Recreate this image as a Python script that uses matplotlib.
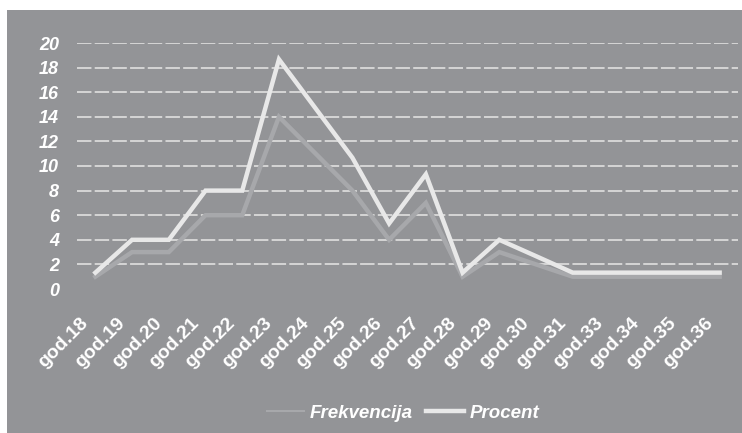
import matplotlib
matplotlib.use("Agg")
import matplotlib.pyplot as plt
from matplotlib.patches import Rectangle

# data
years = ["god.18", "god.19", "god.20", "god.21", "god.22", "god.23", "god.24", "god.25", "god.26",
         "god.27", "god.28", "god.29", "god.30", "god.31", "god.33", "god.34", "god.35", "god.36"]
frekvencija = [1, 3, 3, 6, 6, 14, 11, 8, 4, 7, 1, 3, 2, 1, 1, 1, 1, 1]
procent = [1.33, 4.0, 4.0, 8.0, 8.0, 18.67, 14.67, 10.67, 5.33, 9.33, 1.33, 4.0, 2.67,
           1.33, 1.33, 1.33, 1.33, 1.33]
yticks = list(range(0, 21, 2))

bg = "#939497"
plt.rcParams['font.family'] = ['Liberation Sans', 'DejaVu Sans']

fig = plt.figure(figsize=(7.42, 4.33), dpi=100, facecolor="white")
# grey chart area behind everything
bg_rect = Rectangle((7 / 742, 0.0), 1 - 7 / 742, 1 - 10 / 433,
                    transform=fig.transFigure, facecolor=bg, edgecolor="none", zorder=-10)
fig.add_artist(bg_rect)

ax = fig.add_axes([77 / 742, 1 - 289 / 433, (738 - 77) / 742, (289 - 43) / 433])
ax.set_zorder(1)
ax.set_facecolor(bg)
for s in ax.spines.values():
    s.set_visible(False)

x = list(range(len(years)))
ax.plot(x, frekvencija, color="#a7a8ab", lw=3.2, label="Frekvencija", solid_joinstyle="miter", zorder=3)
ax.plot(x, procent, color="#e8e8e8", lw=3.2, label="Procent", solid_joinstyle="miter", zorder=4)

ax.set_xlim(-0.5, len(years) - 0.5)
ax.set_ylim(0, 20)
ax.set_yticks(yticks)
ax.set_yticklabels([str(v) for v in yticks], color="white", fontsize=13,
                   fontweight="bold", fontstyle="italic")
for v in yticks[1:]:
    ax.axhline(v, color="#dadada", lw=1.3, dashes=(8, 1.8), zorder=1)

# category labels, rotated and pulled a bit left of their category
ax.set_xticks(x)
ax.set_xticklabels([])
for i, name in enumerate(years):
    ax.annotate(name, xy=(i, 0), xycoords=("data", "axes fraction"),
                xytext=(-11, -18.5), textcoords="offset points",
                rotation=45, rotation_mode="anchor", ha="right", va="top",
                color="white", fontsize=14, fontweight="bold", annotation_clip=False)
ax.tick_params(axis="x", length=0)
ax.tick_params(axis="y", length=0, pad=13)

leg = fig.legend(loc="center", bbox_to_anchor=(403 / 742, 1 - 413 / 433), ncol=2, frameon=False,
                 handlelength=2.0, handletextpad=0.3, columnspacing=0.7,
                 prop={"size": 13.5, "weight": "bold", "style": "italic"})
for t in leg.get_texts():
    t.set_color("white")
leg.get_lines()[0].set_linewidth(1.5)

fig.savefig("out.png", dpi=100, facecolor="white")
